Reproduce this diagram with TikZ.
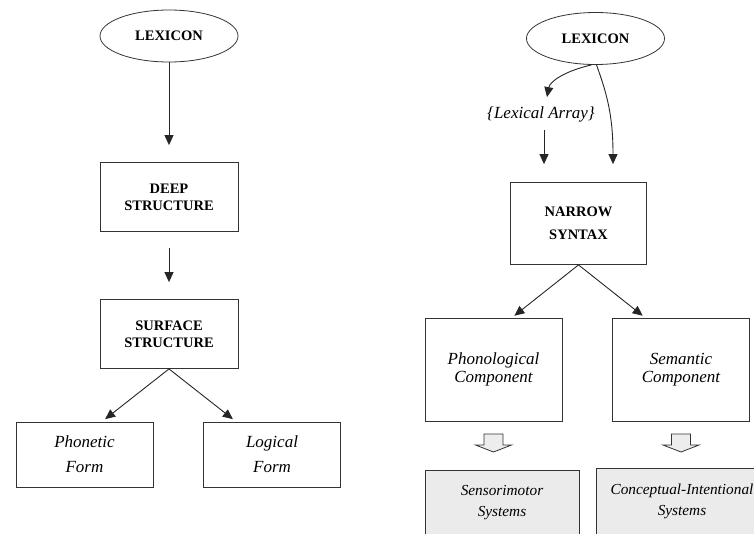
\documentclass[tikz,border=0pt]{standalone}
\usepackage{fontspec}
\setmainfont{Liberation Serif}
\usetikzlibrary{shapes.geometric}
\usetikzlibrary{arrows.meta}
\usetikzlibrary{calc}

\tikzset{
  lexnode/.style={draw=black!80, ellipse, line width=0.8pt,
    minimum width=138pt, minimum height=52pt, inner sep=0pt,
    font=\fontsize{14.5}{17}\selectfont\bfseries},
  capbox/.style={draw=black!80, rectangle, line width=0.8pt,
    minimum width=138pt, minimum height=69pt, inner sep=0pt,
    align=center, font=\fontsize{14.5}{17}\selectfont\bfseries},
  itbox/.style={draw=black!80, rectangle, line width=0.8pt,
    minimum width=137pt, inner sep=0pt,
    align=center, font=\fontsize{17}{18}\selectfont\itshape},
  sysbox/.style={itbox, fill=gray!16, font=\fontsize{15.3}{18}\selectfont\itshape},
  arr/.style={-{Triangle[length=10pt,width=9pt]}, line width=0.9pt, black!85},
  blockarr/.style={draw=black!80, line width=0.8pt, fill=gray!14},
}
\newcommand{\blockdown}[1]{%
  \draw[blockarr] #1 ++(-9.5,0) -- ++(19,0) -- ++(0,11) -- ++(8.5,0)
    -- ++(-18,7) -- ++(-18,-7) -- ++(8.5,0) -- cycle;}

\begin{document}
\begin{tikzpicture}[x=1pt, y=-1pt]
\useasboundingbox (0,0) rectangle (754,533);
\clip (0,0) rectangle (754,533);

% standard theory
\node[lexnode] (lexL) at (169,36) {LEXICON};
\node[capbox] (deep) at (169,197) {DEEP\\STRUCTURE};
\node[capbox] (surf) at (169,334) {SURFACE\\STRUCTURE};
\node[itbox, minimum height=65pt] (phon) at (84.5,454.5) {Phonetic\\[7pt]Form};
\node[itbox, minimum height=65pt] (logic) at (272,454.5) {Logical\\[7pt]Form};

\draw[arr, shorten >=17pt] (lexL) -- (deep);
\draw[arr, shorten <=16pt, shorten >=17pt] (deep) -- (surf);
\draw[arr, shorten >=4pt] (surf.south) -- ($(phon.north)+(17.5,0)$);
\draw[arr, shorten >=4pt] (surf.south) -- ($(logic.north)+(-36,0)$);

% minimalist program
\node[lexnode] (lexR) at (595.5,38.5) {LEXICON};
\node[inner sep=2pt, font=\fontsize{17}{18}\selectfont\itshape] (array) at (541,114) {\{Lexical Array\}};
\node[capbox, minimum width=136pt, minimum height=82pt] (narrow) at (578.5,223.5) {NARROW\\[6pt]SYNTAX};
\node[itbox, minimum height=103pt] (phcomp) at (493.5,369.5) {Phonological\\Component};
\node[itbox, minimum height=103pt] (secomp) at (681,369.5) {Semantic\\Component};
\node[sysbox, minimum width=154pt, minimum height=66pt] (senso) at (502,503) {Sensorimotor\\[3pt]Systems};
\node[sysbox, minimum width=172pt, minimum height=66pt] (concept) at (682,501) {Conceptual-Intentional\\[3pt]Systems};

\draw[arr] ($(lexR.south)+(-4,0)$) .. controls +(-26,6) and +(3,-16) .. ($(array.north)+(6,-7)$);
\draw[arr] ($(lexR.south)+(1,0)$) .. controls +(10,28) and +(0,-50) .. ($(narrow.north)+(34.5,-18)$);
\draw[arr, shorten <=6pt, shorten >=18pt] ($(array.south)+(3,0)$) -- ($(array.south |- narrow.north)+(3,0)$);
\draw[arr, shorten >=3pt] (narrow.south) -- ($(phcomp.north)+(18.5,0)$);
\draw[arr, shorten >=3pt] (narrow.south) -- ($(secomp.north)+(-36,0)$);

\blockdown{(phcomp.south |- 0,434)}
\blockdown{(secomp.south |- 0,434)}
\end{tikzpicture}
\end{document}
